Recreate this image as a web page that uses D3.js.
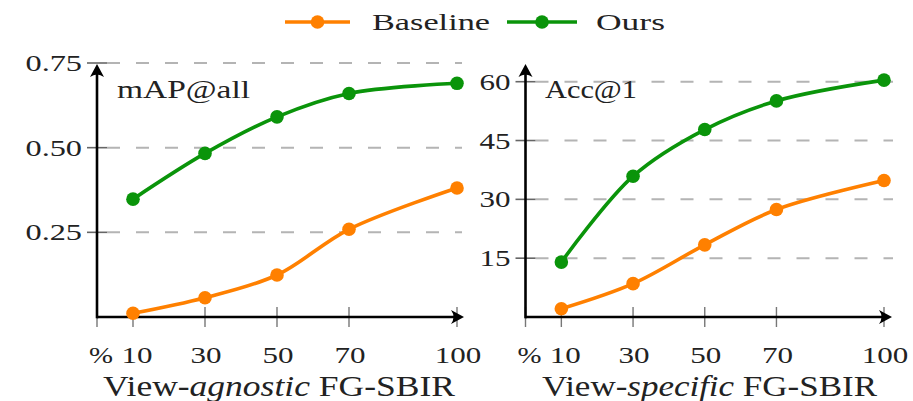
<!DOCTYPE html>
<html>
<head>
<meta charset="utf-8">
<script src="https://cdn.jsdelivr.net/npm/d3@7"></script>
<style>
  body { margin: 0; background: #fff; }
  text { font-family: "Liberation Serif", "DejaVu Serif", serif; fill: #222; }
  .tick-label { font-size: 24px; }
</style>
</head>
<body>
<div id="chart"></div>
<script>
// data
var ratios = [10, 30, 50, 70, 100];
var xTickVals = [0, 10, 30, 50, 70, 100];
var xTickLabels = ["%", "10", "30", "50", "70", "100"];

var agnosticBaseline = [0.011, 0.057, 0.124, 0.259, 0.381];
var agnosticOurs = [0.348, 0.483, 0.591, 0.660, 0.690];
var agnosticTicks = [0.25, 0.50, 0.75];
var agnosticTickLabels = ["0.25", "0.50", "0.75"];

var specificBaseline = [2.1, 8.5, 18.4, 27.4, 34.8];
var specificOurs = [14.0, 35.9, 47.8, 55.1, 60.4];
var specificTicks = [15, 30, 45, 60];
var specificTickLabels = ["15", "30", "45", "60"];

var seriesNames = ["Baseline", "Ours"];
var colors = ["#ff8000", "#0a940a"];

var W = 913, H = 401;
var svg = d3.select("#chart").append("svg")
  .attr("width", W).attr("height", H);

// widen tick labels like the wide CM digits of the original
function labelWidth(s) {
  var w = 0;
  for (var i = 0; i < s.length; i++) {
    var c = s[i];
    if (c == ".") w += 10;
    else if (c == "%") w += 24;
    else w += 15.5;
  }
  return w;
}

function arrowHead(g, tx, ty, dir) {
  // latex style arrow, dir = "right" or "up"
  var p;
  if (dir == "right") {
    p = "M" + tx + "," + ty + " L" + (tx - 13) + "," + (ty - 7) +
        " Q" + (tx - 8) + "," + ty + " " + (tx - 13) + "," + (ty + 7) + " Z";
  } else {
    p = "M" + tx + "," + ty + " L" + (tx - 7) + "," + (ty + 13) +
        " Q" + tx + "," + (ty + 8) + " " + (tx + 7) + "," + (ty + 13) + " Z";
  }
  g.append("path").attr("d", p).attr("fill", "#000");
}

function drawPanel(opt) {
  var g = svg.append("g");
  var x = d3.scaleLinear().domain([0, 100]).range(opt.xRange);
  var y = d3.scaleLinear().domain(opt.yDomain).range(opt.yRange);

  // dashed grid lines
  g.selectAll(".grid").data(opt.yTicks).enter().append("line")
    .attr("x1", x(0) + 10).attr("x2", opt.gridEnd)
    .attr("y1", function(d) { return y(d); })
    .attr("y2", function(d) { return y(d); })
    .attr("stroke", "#b4b4b4").attr("stroke-width", 2)
    .attr("stroke-dasharray", "13,16");

  // y ticks
  g.selectAll(".yt").data(opt.yTicks).enter().append("line")
    .attr("x1", x(0) - 10).attr("x2", x(0) + 10)
    .attr("y1", function(d) { return y(d); })
    .attr("y2", function(d) { return y(d); })
    .attr("stroke", "#666").attr("stroke-width", 1.6);

  g.selectAll(".yl").data(opt.yTicks).enter().append("text")
    .attr("class", "tick-label")
    .attr("x", x(0) - 15)
    .attr("y", function(d) { return y(d) + 8; })
    .attr("text-anchor", "end")
    .attr("textLength", function(d, i) { return labelWidth(opt.yTickLabels[i]); })
    .attr("lengthAdjust", "spacingAndGlyphs")
    .text(function(d, i) { return opt.yTickLabels[i]; });

  // x ticks
  g.selectAll(".xt").data(xTickVals).enter().append("line")
    .attr("x1", function(d) { return x(d); })
    .attr("x2", function(d) { return x(d); })
    .attr("y1", y(0) - 10).attr("y2", y(0) + 10)
    .attr("stroke", "#777").attr("stroke-width", 1.4);

  g.selectAll(".xl").data(xTickVals).enter().append("text")
    .attr("class", "tick-label")
    .attr("x", function(d, i) { return x(d) + (i < 2 ? 4 : 1); })
    .attr("y", 363)
    .attr("text-anchor", "middle")
    .attr("textLength", function(d, i) { return labelWidth(xTickLabels[i]); })
    .attr("lengthAdjust", "spacingAndGlyphs")
    .text(function(d, i) { return xTickLabels[i]; });

  // axes with arrows
  g.append("line")
    .attr("x1", x(0)).attr("x2", opt.xArrow - 8)
    .attr("y1", y(0)).attr("y2", y(0))
    .attr("stroke", "#000").attr("stroke-width", 2.6);
  arrowHead(g, opt.xArrow, y(0), "right");
  g.append("line")
    .attr("x1", x(0)).attr("x2", x(0))
    .attr("y1", y(0) + 1.3).attr("y2", opt.yArrow + 8)
    .attr("stroke", "#000").attr("stroke-width", 2.6);
  arrowHead(g, x(0), opt.yArrow, "up");

  // series
  var line = d3.line()
    .x(function(d, i) { return x(ratios[i]); })
    .y(function(d) { return y(d); })
    .curve(d3.curveCatmullRom.alpha(0.5));

  opt.series.forEach(function(s, k) {
    g.append("path").datum(s)
      .attr("d", line)
      .attr("fill", "none")
      .attr("stroke", colors[k])
      .attr("stroke-width", 3.6);
    g.selectAll(".pt" + k).data(s).enter().append("circle")
      .attr("cx", function(d, i) { return x(ratios[i]); })
      .attr("cy", function(d) { return y(d); })
      .attr("r", 6.8)
      .attr("fill", colors[k]);
  });

  // metric label inside plot
  g.append("text")
    .attr("x", opt.metricX).attr("y", 98)
    .attr("textLength", opt.metricW).attr("lengthAdjust", "spacingAndGlyphs")
    .style("font-size", "25px")
    .text(opt.metric);

  // x axis title
  var t = g.append("text")
    .attr("x", opt.titleX).attr("y", 396)
    .attr("textLength", opt.titleW).attr("lengthAdjust", "spacingAndGlyphs")
    .style("font-size", "30px");
  t.append("tspan").text("View-");
  t.append("tspan").style("font-style", "italic").text(opt.titleWord);
  t.append("tspan").text(" FG-SBIR");
}

drawPanel({
  xRange: [97, 457], yDomain: [0, 0.75], yRange: [317, 63],
  yTicks: agnosticTicks, yTickLabels: agnosticTickLabels,
  gridEnd: 462, xArrow: 464, yArrow: 64,
  series: [agnosticBaseline, agnosticOurs],
  metric: "mAP@all", metricX: 117, metricW: 133,
  titleWord: "agnostic", titleX: 103, titleW: 352
});

drawPanel({
  xRange: [525.5, 884], yDomain: [0, 60], yRange: [317, 81.7],
  yTicks: specificTicks, yTickLabels: specificTickLabels,
  gridEnd: 893, xArrow: 892, yArrow: 64,
  series: [specificBaseline, specificOurs],
  metric: "Acc@1", metricX: 545, metricW: 92,
  titleWord: "specific", titleX: 542, titleW: 335
});

// legend
var legend = svg.append("g");
var legendItems = [
  { x1: 285, x2: 350, tx: 372, tw: 118 },
  { x1: 507, x2: 577, tx: 596, tw: 69 }
];
legendItems.forEach(function(d, k) {
  legend.append("line")
    .attr("x1", d.x1).attr("x2", d.x2).attr("y1", 22).attr("y2", 22)
    .attr("stroke", colors[k]).attr("stroke-width", 3.6);
  legend.append("circle")
    .attr("cx", (d.x1 + d.x2) / 2).attr("cy", 22).attr("r", 6.8)
    .attr("fill", colors[k]);
  legend.append("text")
    .attr("x", d.tx).attr("y", 30)
    .attr("textLength", d.tw).attr("lengthAdjust", "spacingAndGlyphs")
    .style("font-size", "23px")
    .text(seriesNames[k]);
});
</script>
</body>
</html>
